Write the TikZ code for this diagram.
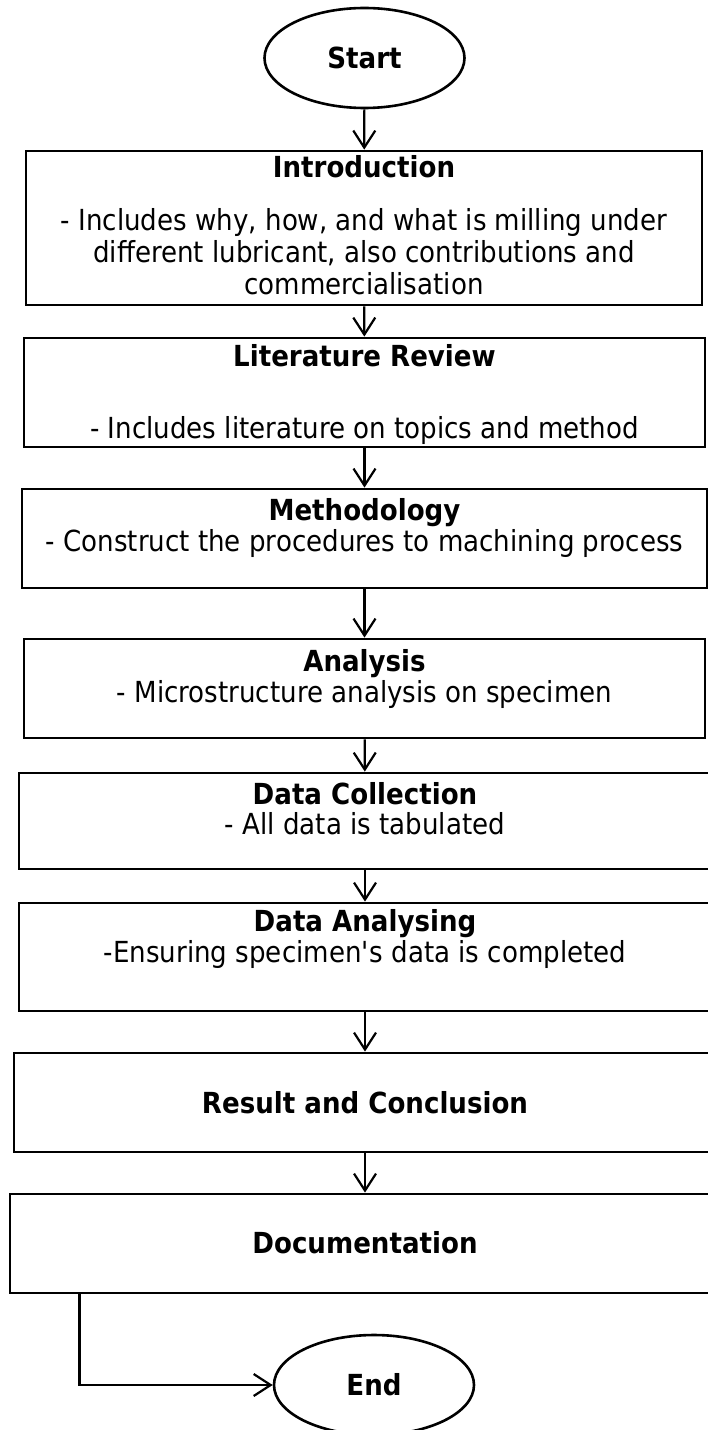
\documentclass[tikz,border=0pt]{standalone}
\usepackage{fontspec}
\setmainfont{DejaVu Sans}[FakeStretch=0.9]
\usetikzlibrary{arrows.meta,shapes.geometric}
\newcommand\flowsize{\fontsize{29bp}{32bp}\selectfont}
\tikzset{%
  tipV/.tip={Straight Barb[length=17bp,width=22bp]},
  stepbox/.style={draw, line width=2.8bp, rectangle, inner sep=0pt},
  term/.style={draw, line width=2.6bp, ellipse, inner sep=0pt,
    minimum width=200bp, minimum height=100bp, font=\flowsize\bfseries},
  head/.style={inner sep=0pt, font=\flowsize\bfseries},
  body/.style={inner sep=0pt, align=center, font=\flowsize},
  flow/.style={line width=2.2bp, -tipV}
}

\begin{document}
\begin{tikzpicture}[x=1bp,y=-1bp]
\useasboundingbox (0,0) rectangle (708,1430);
\node[term] (start) at (364.5,58) {Start};
\node[stepbox, minimum width=676bp, minimum height=154bp] (intro) at (364,228) {};
\node[stepbox, minimum width=681bp, minimum height=109bp] (lit) at (364.5,392.5) {};
\node[stepbox, minimum width=685bp, minimum height=99bp] (method) at (364.5,538.5) {};
\node[stepbox, minimum width=681bp, minimum height=99bp] (analysis) at (364.5,688.5) {};
\node[stepbox, minimum width=692bp, minimum height=96bp] (collect) at (365,821) {};
\node[stepbox, minimum width=692bp, minimum height=108bp] (dataan) at (365,957) {};
\node[stepbox, minimum width=702bp, minimum height=99bp] (result) at (365,1102.5) {};
\node[stepbox, minimum width=710bp, minimum height=99bp] (doc) at (365,1243.5) {};
\node[term] (end) at (374,1385) {End};
% titles and descriptions
\node[head] (introT) at (364,167) {Introduction};
\node[body] (introB) at (364,251.5) {- Includes why, how, and what is milling under\\
  different lubricant, also contributions and\\ commercialisation};
\node[head] (litT) at (364.5,356) {Literature Review};
\node[body] (litB) at (364.5,430) {- Includes literature on topics and method};
\node[head] (methodT) at (364.5,513) {Methodology};
\node[body] (methodB) at (364.5,543) {- Construct the procedures to machining process};
\node[head] (analysisT) at (364.5,664) {Analysis};
\node[body] (analysisB) at (364.5,694) {- Microstructure analysis on specimen};
\node[head] (collectT) at (365,794) {Data Collection};
\node[body] (collectB) at (365,824) {- All data is tabulated};
\node[head] (dataanT) at (365,924) {Data Analysing};
\node[body] (dataanB) at (365,954) {-Ensuring specimen\textquotesingle s data is completed};
\node[head] (resultT) at (365,1103) {Result and Conclusion};
\node[head] (docT) at (365,1243) {Documentation};
% connectors
\draw[flow] (start) -- (intro);
\draw[flow] (intro) -- (lit);
\draw[flow] (lit) -- (method);
\draw[flow] (method) -- (analysis);
\draw[flow] (analysis) -- (collect);
\draw[flow] (collect) -- (dataan);
\draw[flow] (dataan) -- (result);
\draw[flow] (result) -- (doc);
\draw[flow] ([xshift=71bp]doc.south west) |- (end.west);
\end{tikzpicture}
\end{document}
